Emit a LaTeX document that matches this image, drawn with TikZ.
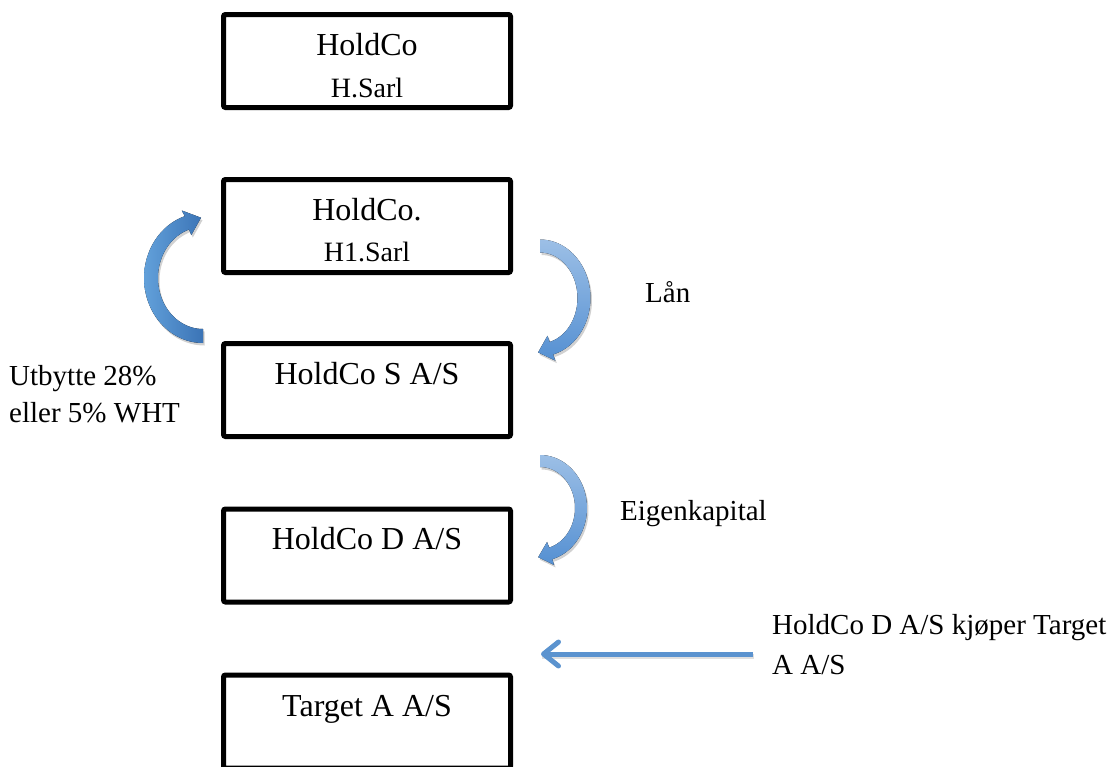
\documentclass[tikz,border=0pt]{standalone}
\usepackage{fontspec}
\setmainfont{Liberation Serif}
\usetikzlibrary{arrows.meta,shadows}

\definecolor{ribbonDark}{HTML}{3B74B6}
\definecolor{ribbonLight}{HTML}{62A0DA}
\definecolor{ribbonPale}{HTML}{9CBFE6}
\definecolor{ribbonMid}{HTML}{5590D2}
\definecolor{lineBlue}{HTML}{5B93CF}

\begin{document}
\begin{tikzpicture}[x=1pt, y=-1pt,
  company/.style={draw=black, line width=5pt, rounded corners=2pt,
    minimum width=287pt, minimum height=93pt, inner sep=0pt},
  nametext/.style={anchor=base, inner sep=0pt, font=\fontsize{32}{38}\selectfont},
  subtext/.style={anchor=base, inner sep=0pt, font=\fontsize{28}{34}\selectfont},
  note/.style={anchor=base west, align=left, inner sep=0pt},
  ribbonshadow/.style={drop shadow={shadow xshift=1.5pt, shadow yshift=-2.5pt,
    opacity=0.18, fill=black}},
  downribbon/.style={ribbonshadow, top color=ribbonPale, bottom color=ribbonMid},
  upribbon/.style={ribbonshadow, left color=ribbonLight, right color=ribbonDark},
  buyarrow/.style={draw=lineBlue, line width=5pt,
    -{Straight Barb[length=15pt, width=24pt, round]}}
]
\useasboundingbox (0,0) rectangle (1114,766);

% company boxes, top to bottom
\node[company] (hsarl)   at (367,61)    {};
\node[company] (hone)    at (367,226)   {};
\node[company] (hsas)    at (367,390)   {};
\node[company] (hdas)    at (367,555.5) {};
\node[company] (target)  at (367,721.5) {};

% company names
\node[nametext] at ([yshift=-43pt]hsarl.north)  {HoldCo};
\node[subtext]  at ([yshift=-85pt]hsarl.north)  {H.Sarl};
\node[nametext] at ([yshift=-43pt]hone.north)   {HoldCo.};
\node[subtext]  at ([yshift=-84pt]hone.north)   {H1.Sarl};
\node[nametext] at ([yshift=-43pt]hsas.north)   {HoldCo S A/S};
\node[nametext] at ([yshift=-43pt]hdas.north)   {HoldCo D A/S};
\node[nametext] at ([yshift=-44pt]target.north) {Target A A/S};

% dividend ribbon from HoldCo S A/S up to H1.Sarl
\fill[upribbon]
  plot[domain=90:252, samples=50, variable=\t] ({203+59*cos(\t)}, {278+65*sin(\t)})
  -- (181.8,210.5) -- (201.0,217.7) -- (191.3,235.0)
  -- plot[domain=252:90, samples=50, variable=\t] ({203+45*cos(\t)}, {278+51*sin(\t)})
  -- cycle;

% loan ribbon from H1.Sarl down to HoldCo S A/S
\fill[downribbon]
  plot[domain=-90:75, samples=50, variable=\t] ({540+50.5*cos(\t)}, {298+58.5*sin(\t)})
  -- (555.3,360.6) -- (538.1,352.4) -- (547.5,335.8)
  -- plot[domain=75:-90, samples=50, variable=\t] ({540+37.5*cos(\t)}, {298+45.5*sin(\t)})
  -- cycle;

% equity ribbon from HoldCo S A/S down to HoldCo D A/S
\fill[downribbon]
  plot[domain=-90:75, samples=50, variable=\t] ({540+47*cos(\t)}, {508+53*sin(\t)})
  -- (554.1,564.9) -- (538.2,557.2) -- (547.1,541.9)
  -- plot[domain=75:-90, samples=50, variable=\t] ({540+35*cos(\t)}, {508+41*sin(\t)})
  -- cycle;

% acquisition arrow
\coordinate (buyFrom) at (753,654);
\coordinate (buyTo)   at (541,654);
\draw[draw=black, opacity=0.12, line width=5pt, transform canvas={xshift=1pt, yshift=-2pt}]
  (buyFrom) -- (buyTo);
\draw[buyarrow] (buyFrom) -- (buyTo);

% side notes (base anchor sits on the last line)
\node[note, font=\fontsize{29}{37}\selectfont] (utb) at (9,422)
  {Utbytte 28\%\\eller 5\% WHT};
\node[note, font=\fontsize{29}{35}\selectfont] (lan) at (645,302) {Lån};
\node[note, font=\fontsize{29}{35}\selectfont] (egk) at (620,520) {Eigenkapital};
\node[note, font=\fontsize{29}{40}\selectfont] (buy) at (772,674)
  {HoldCo D A/S kjøper Target\\A A/S};
\end{tikzpicture}
\end{document}
